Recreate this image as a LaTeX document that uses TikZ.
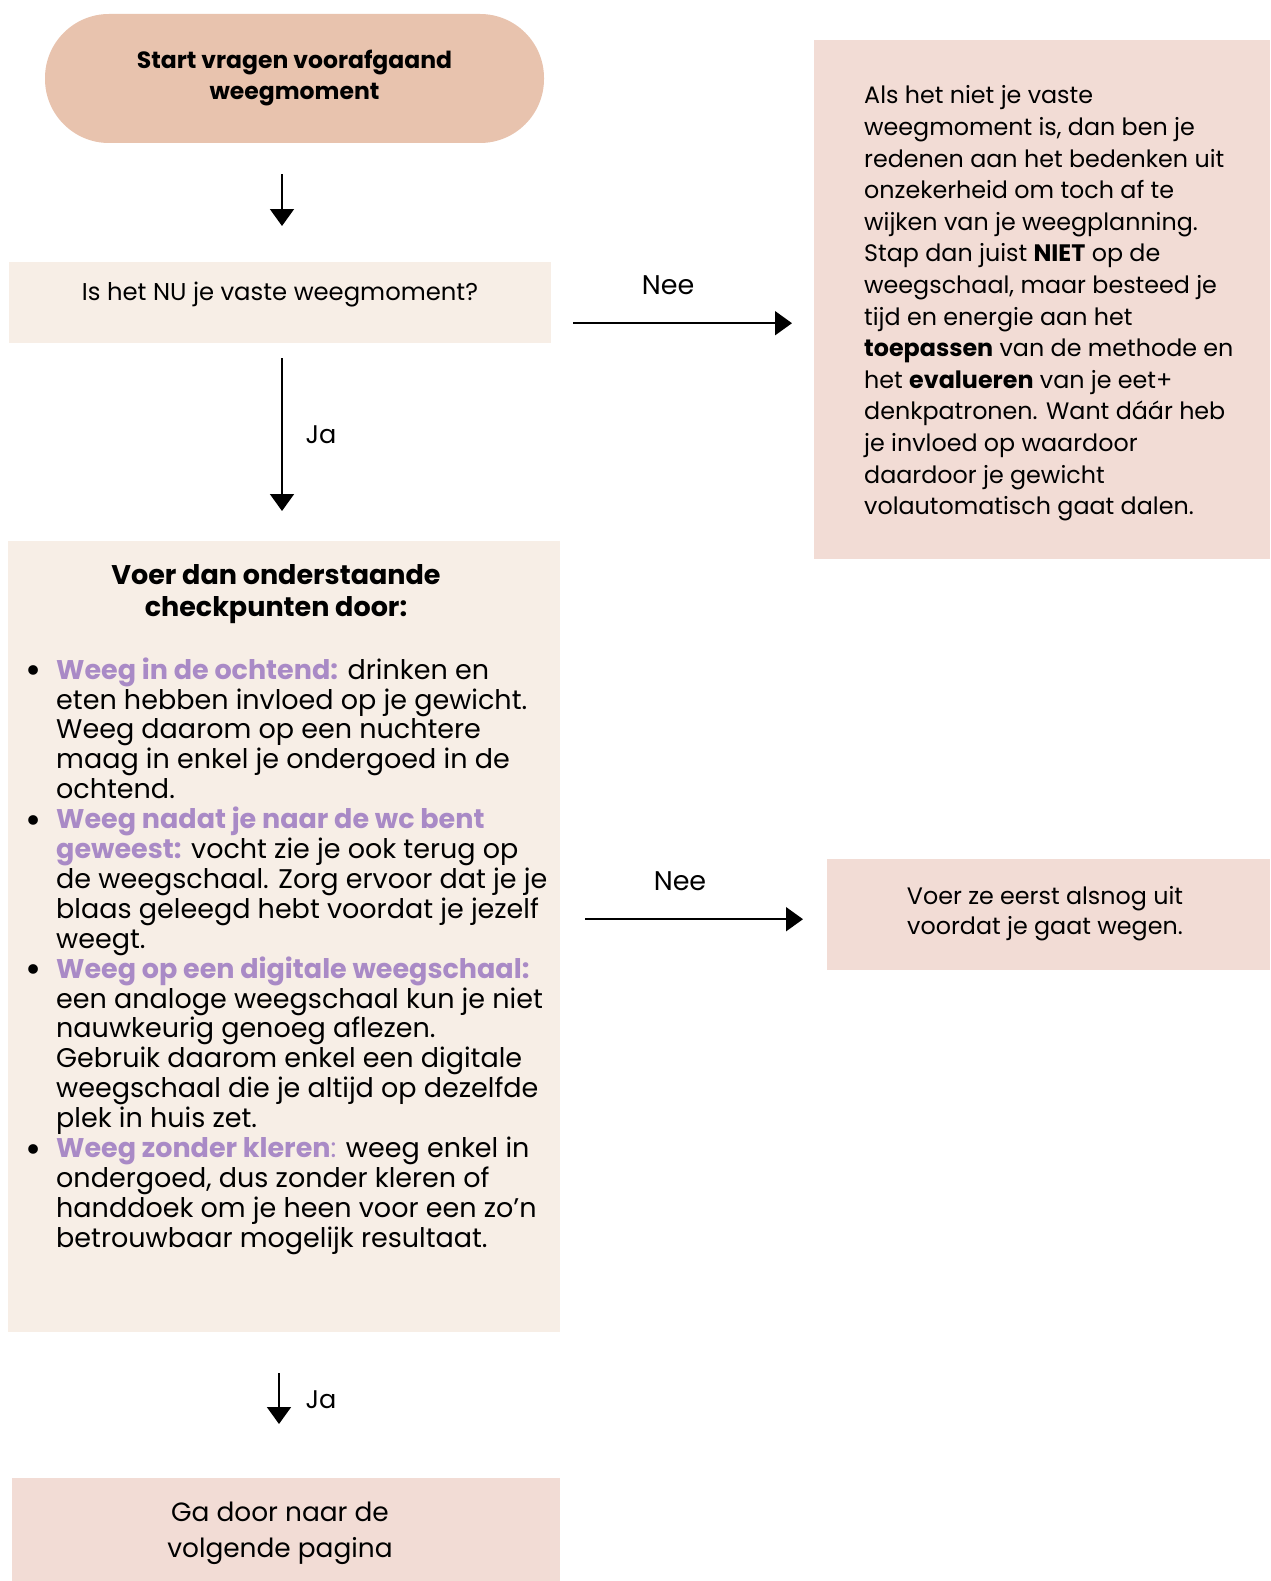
\documentclass[tikz,border=0pt]{standalone}
\usepackage{fontspec}
\setmainfont{Poppins}
\usetikzlibrary{arrows.meta,calc}
\definecolor{peach}{HTML}{E8C3AE}
\definecolor{cream}{HTML}{F7EEE6}
\definecolor{blush}{HTML}{F2DCD5}
\definecolor{purp}{HTML}{A98AC6}
\newcommand\pur[1]{\textcolor{purp}{\textbf{#1}}}
\newcommand\bul{\makebox[0pt][r]{\raisebox{-4.5pt}{\scalebox{1.45}{\textbullet}}\hspace{15pt}}}
\tikzset{
  boxbase/.style={draw=none, inner sep=0pt, anchor=north west},
  arr/.style={line width=1.8pt, -{Triangle[length=17pt,width=24pt]}},
  lbl/.style={font=\fontsize{25.5}{28}\selectfont, inner sep=0pt},
}
\begin{document}
\begin{tikzpicture}[x=1pt,y=-1pt]
\useasboundingbox[fill=white] (0,0) rectangle (1270,1581);

% start
\node[fill=peach, rounded corners=64pt, minimum width=499pt, minimum height=129pt, inner sep=0pt,
      align=center, font=\fontsize{23.5}{31}\selectfont\bfseries] (start) at (294.5,78.5)
  {Start vragen voorafgaand\\weegmoment};

% question box
\node[boxbase, fill=cream, minimum width=542pt, minimum height=81pt] (q1) at (9,262) {};
\node[font=\fontsize{24.3}{28}\selectfont, inner sep=0pt] (q1t) at (280,295) {Is het NU je vaste weegmoment?};

% right box 1
\node[boxbase, fill=blush, minimum width=456pt, minimum height=519pt] (r1) at (814,40) {};
\node[anchor=west, align=left, inner sep=0pt, font=\fontsize{23.8}{31.6}\selectfont] (r1t) at (864,303.5)
  {Als het niet je vaste\\
   weegmoment is, dan ben je\\
   redenen aan het bedenken uit\\
   onzekerheid om toch af te\\
   wijken van je weegplanning.\\
   Stap dan juist \textbf{NIET} op de\\
   weegschaal, maar besteed je\\
   tijd en energie aan het\\
   \textbf{toepassen} van de methode en\\
   het \textbf{evalueren} van je eet+\\
   denkpatronen. Want dáár heb\\
   je invloed op waardoor\\
   daardoor je gewicht\\
   volautomatisch gaat dalen.};

% big box
\node[boxbase, fill=cream, minimum width=552pt, minimum height=791pt] (big) at (8,541) {};
\node[align=center, inner sep=0pt, font=\fontsize{27}{32}\selectfont\bfseries] (bigt) at (276,594)
  {Voer dan onderstaande\\checkpunten door:};
\node[anchor=west, align=left, inner sep=0pt, font=\fontsize{27}{29.9}\selectfont] (list) at (56,956)
  {\bul\pur{Weeg in de ochtend:} drinken en\\
   eten hebben invloed op je gewicht.\\
   Weeg daarom op een nuchtere\\
   maag in enkel je ondergoed in de\\
   ochtend.\\
   \bul\pur{Weeg nadat je naar de wc bent}\\
   \pur{geweest:} vocht zie je ook terug op\\
   de weegschaal. Zorg ervoor dat je je\\
   blaas geleegd hebt voordat je jezelf\\
   weegt.\\
   \bul\pur{Weeg op een digitale weegschaal:}\\
   een analoge weegschaal kun je niet\\
   nauwkeurig genoeg aflezen.\\
   Gebruik daarom enkel een digitale\\
   weegschaal die je altijd op dezelfde\\
   plek in huis zet.\\
   \bul\pur{Weeg zonder kleren}\textcolor{purp}{:} weeg enkel in\\
   ondergoed, dus zonder kleren of\\
   handdoek om je heen voor een zo’n\\
   betrouwbaar mogelijk resultaat.};

% right box 2
\node[boxbase, fill=blush, minimum width=443pt, minimum height=111pt] (r2) at (827,859) {};
\node[align=center, inner sep=0pt, font=\fontsize{23.8}{30}\selectfont] (r2t) at (1045,914)
  {Voer ze eerst alsnog uit\\voordat je gaat wegen.};

% bottom box
\node[boxbase, fill=blush, minimum width=548pt, minimum height=103pt] (end) at (12,1478) {};
\node[align=center, inner sep=0pt, font=\fontsize{26.4}{36.3}\selectfont] (endt) at (280,1533)
  {Ga door naar de\\volgende pagina};

% connectors
\coordinate (a1) at (start.south -| q1t);
\draw[arr, shorten <=31pt, shorten >=36pt] ([xshift=2pt]a1) -- ([xshift=2pt]q1.north -| q1t);

\coordinate (n1) at ([yshift=-20.5pt]q1.east);
\draw[arr, shorten <=22pt, shorten >=22pt] (n1) -- (n1 -| r1.west);
\node[lbl, font=\fontsize{27}{30}\selectfont] (nee1) at (668,285) {Nee};

\draw[arr, shorten <=15pt, shorten >=30pt] ([xshift=2pt]q1.south -| q1t) -- ([xshift=2pt]big.north -| q1t);
\node[lbl] (ja1) at (321,435) {Ja};

\coordinate (n2) at ([yshift=-4.5pt]r2.west);
\draw[arr, shorten <=25pt, shorten >=24pt] (n2 -| big.east) -- (n2);
\node[lbl, font=\fontsize{27}{30}\selectfont] (nee2) at (680,881) {Nee};

\draw[arr, shorten <=41pt, shorten >=54pt] ([xshift=-1pt]big.south -| q1t) -- ([xshift=-1pt]end.north -| q1t);
\node[lbl] (ja2) at (321,1400) {Ja};
\end{tikzpicture}
\end{document}
